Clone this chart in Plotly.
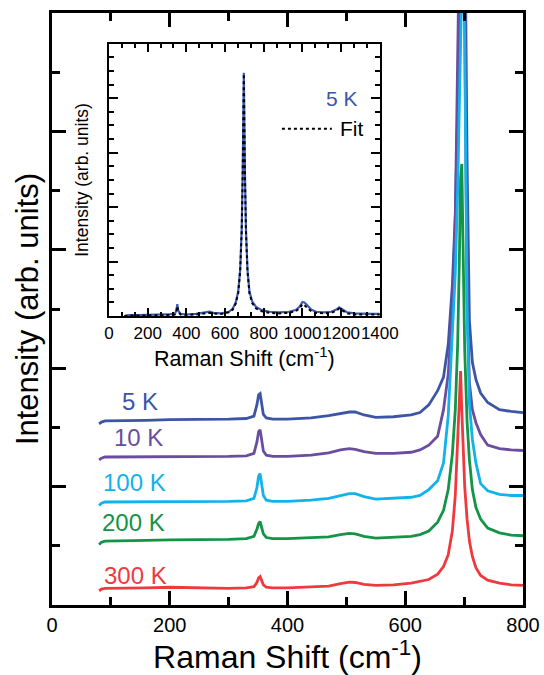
import plotly.graph_objects as go

# ---------------- data ----------------
shift = [80, 84, 90, 120, 160, 200, 250, 300, 330, 343,
         348, 351, 353.5, 356, 359, 364, 375, 400, 440, 470,
         490, 505, 515, 530, 550, 580, 610, 625, 640, 655,
         665, 673, 680, 685, 689, 692, 694, 696, 698, 701,
         705, 709, 714, 720, 728, 740, 760, 780, 800]

i_300K = [0.24, 0.27, 0.28, 0.28, 0.29, 0.30, 0.29, 0.28, 0.29, 0.31,
          0.38, 0.46, 0.48, 0.42, 0.34, 0.30, 0.29, 0.29, 0.30, 0.32,
          0.36, 0.385, 0.38, 0.35, 0.33, 0.34, 0.37, 0.40, 0.43, 0.52,
          0.65, 0.85, 1.25, 1.85, 2.8, 3.75, 3.95, 3.3, 2.7, 2.0,
          1.45, 1.08, 0.82, 0.63, 0.5, 0.42, 0.37, 0.34, 0.33]

i_200K = [1.02, 1.06, 1.08, 1.08, 1.09, 1.10, 1.10, 1.11, 1.12, 1.16,
          1.28, 1.38, 1.41, 1.32, 1.20, 1.14, 1.12, 1.12, 1.13, 1.15,
          1.19, 1.21, 1.20, 1.16, 1.13, 1.14, 1.16, 1.19, 1.25, 1.40,
          1.6, 1.95, 2.55, 3.3, 4.4, 5.9, 7.2, 7.45, 6.0, 4.3,
          3.1, 2.45, 1.95, 1.65, 1.45, 1.3, 1.22, 1.18, 1.17]

i_100K = [1.68, 1.72, 1.74, 1.74, 1.75, 1.75, 1.75, 1.75, 1.76, 1.80,
          1.98, 2.18, 2.22, 2.05, 1.85, 1.77, 1.75, 1.75, 1.77, 1.80,
          1.85, 1.88, 1.88, 1.83, 1.79, 1.80, 1.82, 1.85, 1.95, 2.1,
          2.4, 3.2, 4.5, 5.6, 7.0, 9.0, 10.5, 11.5, 11.5, 9.5,
          5.0, 3.4, 2.8, 2.4, 2.05, 1.93, 1.87, 1.85, 1.85]

i_10K = [2.45, 2.48, 2.50, 2.50, 2.50, 2.51, 2.51, 2.51, 2.52, 2.56,
         2.75, 2.93, 2.96, 2.80, 2.60, 2.53, 2.51, 2.51, 2.53, 2.57,
         2.62, 2.64, 2.63, 2.59, 2.56, 2.56, 2.58, 2.62, 2.70, 2.85,
         3.3, 3.9, 5.0, 6.5, 8.5, 10.5, 13, 14, 13, 10,
         5.2, 3.75, 3.3, 3.08, 2.88, 2.70, 2.64, 2.62, 2.61]

i_5K = [3.06, 3.09, 3.11, 3.11, 3.12, 3.13, 3.13, 3.14, 3.15, 3.19,
        3.38, 3.55, 3.57, 3.40, 3.22, 3.16, 3.14, 3.14, 3.16, 3.20,
        3.24, 3.26, 3.26, 3.21, 3.17, 3.18, 3.21, 3.25, 3.38, 3.62,
        3.85, 4.4, 5.4, 6.6, 8.3, 11, 13, 14, 14, 12,
        7.5, 4.8, 4.1, 3.81, 3.58, 3.42, 3.30, 3.27, 3.25]

temps = ["5 K", "10 K", "100 K", "200 K", "300 K"]
colors = ["#3d55a5", "#6a4d9f", "#12b2ea", "#139447", "#ee3a3f"]

# inset spectrum (5 K, full range) and its fit
inset_shift = [80, 100, 150, 200, 250, 300, 340, 348, 353, 358,
               370, 400, 450, 500, 520, 540, 580, 620, 640, 655,
               668, 678, 686, 691, 697, 703, 708, 716, 726, 740,
               760, 790, 830, 880, 930, 965, 985, 1000, 1010, 1025,
               1045, 1070, 1110, 1150, 1175, 1190, 1205, 1230, 1270, 1320,
               1360, 1400]
inset_data = [0.0, 0.02, 0.02, 0.02, 0.02, 0.03, 0.04, 0.10, 0.22, 0.10,
              0.04, 0.03, 0.04, 0.07, 0.08, 0.06, 0.05, 0.08, 0.14, 0.25,
              0.45, 0.85, 1.6, 2.6, 4.47, 2.6, 1.6, 0.85, 0.45, 0.27,
              0.17, 0.11, 0.08, 0.07, 0.08, 0.11, 0.17, 0.26, 0.25, 0.20,
              0.12, 0.08, 0.07, 0.08, 0.12, 0.16, 0.12, 0.07, 0.05, 0.04,
              0.04, 0.04]
inset_fit = [0.0, 0.01, 0.01, 0.01, 0.01, 0.02, 0.03, 0.08, 0.18, 0.08,
             0.03, 0.02, 0.03, 0.05, 0.06, 0.05, 0.04, 0.07, 0.12, 0.23,
             0.42, 0.82, 1.55, 2.55, 4.45, 2.55, 1.55, 0.82, 0.42, 0.24,
             0.14, 0.09, 0.06, 0.05, 0.06, 0.09, 0.14, 0.22, 0.20, 0.15,
             0.09, 0.06, 0.05, 0.06, 0.10, 0.14, 0.10, 0.05, 0.03, 0.03,
             0.03, 0.03]

main_x_ticks = [0, 200, 400, 600, 800]
inset_x_ticks = [0, 200, 400, 600, 800, 1000, 1200, 1400]

# ---------------- figure ----------------
FONT = "Liberation Sans, Arial, sans-serif"
fig = go.Figure()

series = [i_5K, i_10K, i_100K, i_200K, i_300K]
for name, col, ys in zip(temps, colors, series):
    fig.add_trace(go.Scatter(x=shift, y=ys, mode="lines", name=name,
                             line=dict(color=col, width=2.8),
                             xaxis="x", yaxis="y"))

fig.add_trace(go.Scatter(x=inset_shift, y=inset_data, mode="lines",
                         line=dict(color="#3f5cb8", width=2.2),
                         xaxis="x2", yaxis="y2"))
fig.add_trace(go.Scatter(x=inset_shift, y=inset_fit, mode="lines",
                         line=dict(color="black", width=2, dash="dot"),
                         xaxis="x2", yaxis="y2"))

# labels beside main curves
label_pos = [(149, 3.43), (147, 2.83), (140, 2.07), (139, 1.39), (141, 0.50)]
for name, col, (lx, ly) in zip(temps, colors, label_pos):
    fig.add_annotation(x=lx, y=ly, xref="x", yref="y", text=name,
                       showarrow=False, font=dict(family=FONT, size=24, color=col))

# inset legend
fig.add_annotation(x=1300, y=4.0, xref="x2", yref="y2", text="5 K", xanchor="right",
                   showarrow=False, font=dict(family=FONT, size=21, color="#3d55a5"))
fig.add_annotation(x=1322, y=3.44, xref="x2", yref="y2", text="Fit", xanchor="right",
                   showarrow=False, font=dict(family=FONT, size=21, color="black"))
fig.add_shape(type="line", xref="x2", yref="y2", x0=894, x1=1152, y0=3.44, y1=3.44,
              line=dict(color="black", width=2, dash="dot"))

axis_common = dict(showline=True, linecolor="black", mirror="allticks", automargin=False,
                   ticks="inside", tickcolor="black", showgrid=False, zeroline=False)

fig.update_layout(
    template="none",
    width=544, height=675,
    margin=dict(l=52, r=21, t=13, b=70, autoexpand=False),
    paper_bgcolor="white", plot_bgcolor="white",
    showlegend=False,
    font=dict(family=FONT, color="black"),
    xaxis=dict(range=[0, 800], tickvals=main_x_ticks, ticklen=14, tickwidth=2.5, linewidth=3,
               minor=dict(dtick=100, ticklen=8, tickwidth=2.5, ticks="inside", tickcolor="black"),
               tickfont=dict(size=20, family=FONT), tickangle=0,
               title=dict(text="Raman Shift (cm<sup>-1</sup>)", font=dict(size=32, family=FONT), standoff=8),
               **axis_common),
    yaxis=dict(range=[0, 10], dtick=2, ticklen=14, tickwidth=2.5, linewidth=3, showticklabels=False,
               minor=dict(dtick=1, ticklen=8, tickwidth=2.5, ticks="inside", tickcolor="black"),
               title=dict(text="Intensity (arb. units)", font=dict(size=31, family=FONT), standoff=2),
               **axis_common),
    xaxis2=dict(domain=[0.121, 0.696], anchor="y2", range=[0, 1400], tickvals=inset_x_ticks,
                ticklen=8, tickwidth=2, linewidth=2.2, tickangle=0,
                minor=dict(dtick=200 / 3, ticklen=4, tickwidth=2, ticks="inside", tickcolor="black"),
                tickfont=dict(size=17, family=FONT),
                title=dict(text="Raman Shift (cm<sup>-1</sup>)", font=dict(size=21.5, family=FONT), standoff=9),
                **axis_common),
    yaxis2=dict(domain=[0.488, 0.948], anchor="x2", range=[0, 5], dtick=1, showticklabels=False,
                ticklen=9, tickwidth=2, linewidth=2.2,
                minor=dict(dtick=0.25, ticklen=5, tickwidth=2, ticks="inside", tickcolor="black"),
                title=dict(text="Intensity (arb. units)", font=dict(size=17.5, family=FONT), standoff=14),
                **axis_common),
)

fig.write_html("out.html")
